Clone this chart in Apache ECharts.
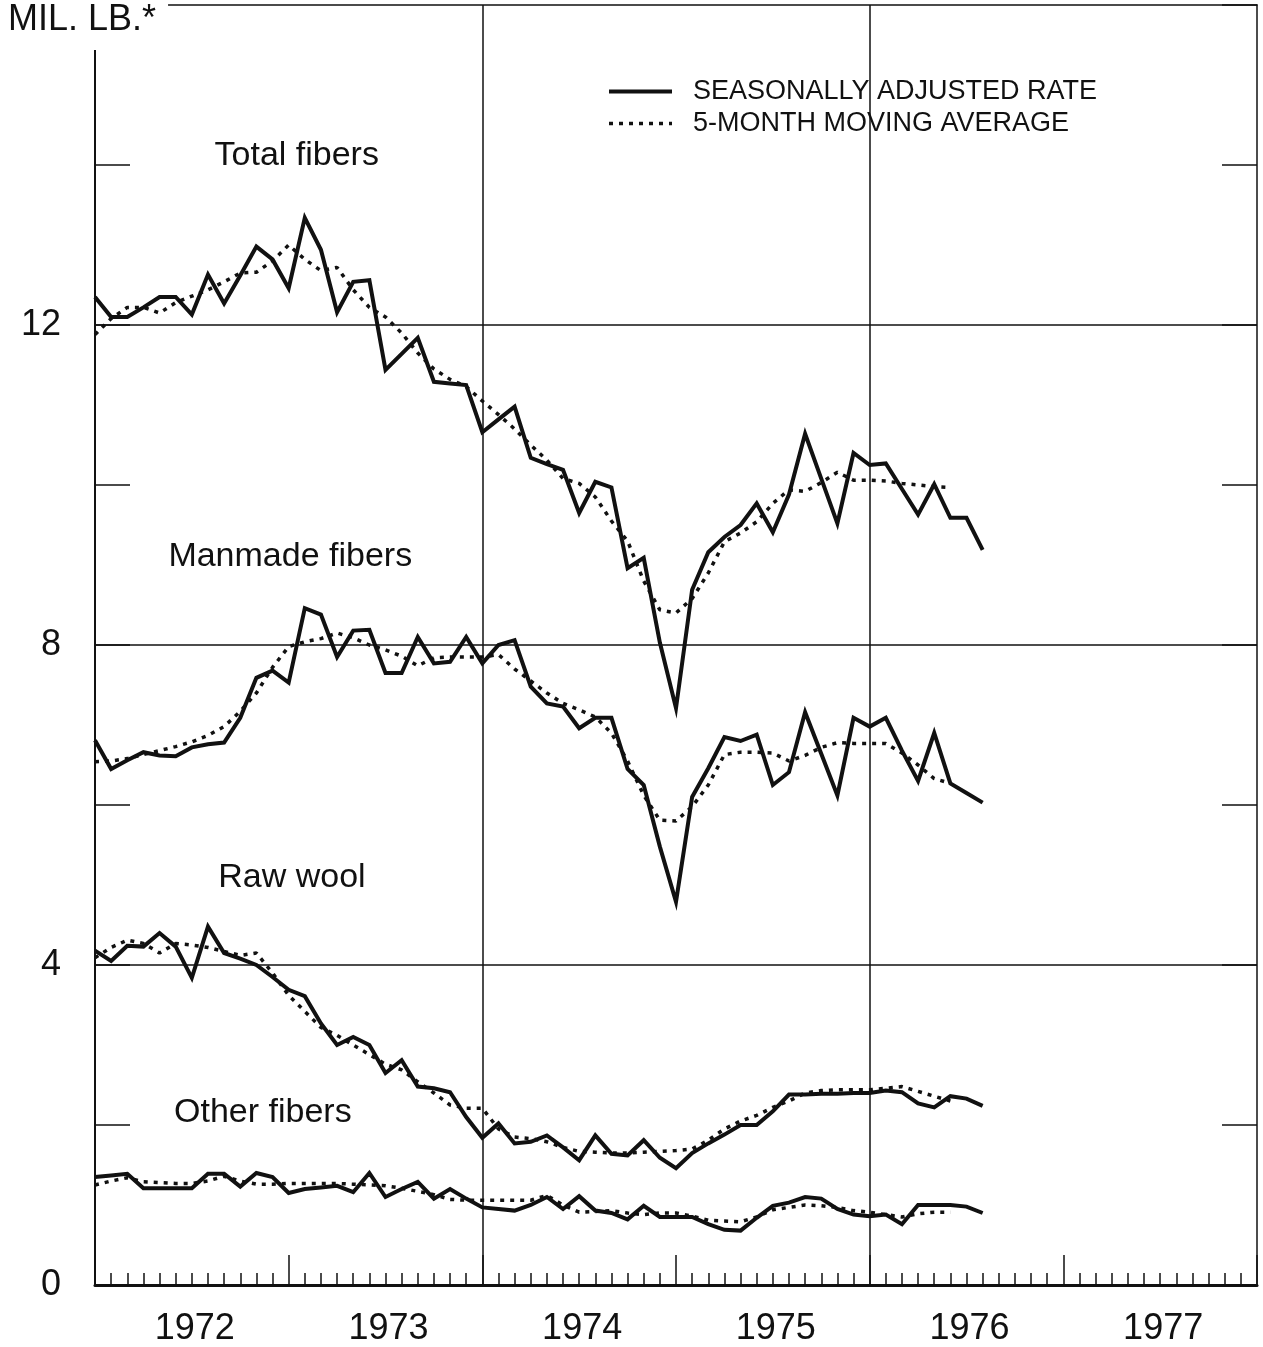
<!DOCTYPE html>
<html>
<head>
<meta charset="utf-8">
<script src="https://cdn.jsdelivr.net/npm/echarts@6/dist/echarts.min.js"></script>
<style>
html, body { margin: 0; padding: 0; background: #fff; }
#chart { width: 1263px; height: 1347px; }
</style>
</head>
<body>
<div id="chart"></div>
<script>
// months counted from Jan 1972 (index 0)
var years = ['1972', '1973', '1974', '1975', '1976', '1977'];

// total fibers
var totalRate = [12.35, 12.1, 12.1, 12.22, 12.35, 12.35, 12.13, 12.63, 12.27, 12.62,
  12.98, 12.82, 12.46, 13.34, 12.94, 12.16, 12.54, 12.56, 11.44, 11.64,
  11.84, 11.29, 11.27, 11.25, 10.66, 10.82, 10.98, 10.34, 10.26, 10.19,
  9.65, 10.04, 9.97, 8.96, 9.09, 8.03, 7.21, 8.69, 9.16, 9.35,
  9.5, 9.77, 9.41, 9.88, 10.64, 10.08, 9.52, 10.4, 10.25, 10.27,
  9.95, 9.63, 10.01, 9.59, 9.59, 9.19];
var totalAvg = [11.88, 12.08, 12.22, 12.22, 12.15, 12.28, 12.36, 12.44, 12.54, 12.65,
  12.66, 12.8, 13.0, 12.82, 12.68, 12.72, 12.44, 12.22, 12.1, 11.9,
  11.65, 11.45, 11.32, 11.23, 11.05, 10.88, 10.7, 10.5, 10.31, 10.08,
  10.02, 9.85, 9.55, 9.3, 8.8, 8.44, 8.4, 8.58, 8.9, 9.29,
  9.4, 9.54, 9.77, 9.94, 9.92, 10.03, 10.16, 10.06, 10.06, 10.05,
  10.02, 10.0, 9.98, 9.97];

// manmade fibers
var manmadeRate = [6.81, 6.45, 6.56, 6.66, 6.62, 6.61, 6.72, 6.76, 6.78, 7.09,
  7.59, 7.68, 7.53, 8.46, 8.38, 7.85, 8.18, 8.19, 7.65, 7.65,
  8.1, 7.77, 7.79, 8.1, 7.77, 8.0, 8.06, 7.48, 7.27, 7.23,
  6.96, 7.09, 7.09, 6.45, 6.25, 5.48, 4.79, 6.1, 6.46, 6.85,
  6.8, 6.88, 6.25, 6.41, 7.16, 6.64, 6.12, 7.09, 6.98, 7.09,
  6.68, 6.3, 6.9, 6.27, 6.15, 6.03];
var manmadeAvg = [6.54, 6.55, 6.58, 6.63, 6.68, 6.73, 6.79, 6.87, 6.98, 7.17,
  7.4, 7.72, 7.98, 8.04, 8.08, 8.15, 8.09, 8.0, 7.94, 7.86,
  7.74, 7.84, 7.85, 7.85, 7.85, 7.88, 7.7, 7.55, 7.4, 7.27,
  7.19, 7.1, 6.9, 6.55, 6.12, 5.81, 5.8, 5.98, 6.25, 6.63,
  6.66, 6.66, 6.65, 6.55, 6.62, 6.72, 6.78, 6.77, 6.77, 6.77,
  6.65, 6.5, 6.33, 6.27];

// raw wool
var woolRate = [4.18, 4.05, 4.24, 4.23, 4.4, 4.23, 3.84, 4.48, 4.15, 4.08,
  4.0, 3.85, 3.69, 3.61, 3.27, 3.0, 3.1, 3.0, 2.65, 2.81,
  2.48, 2.46, 2.41, 2.1, 1.84, 2.02, 1.77, 1.79, 1.87, 1.72,
  1.56, 1.87, 1.64, 1.62, 1.81, 1.59, 1.46, 1.65, 1.77, 1.88,
  2.0, 2.0, 2.17, 2.38, 2.38, 2.39, 2.39, 2.4, 2.4, 2.43,
  2.41, 2.27, 2.22, 2.36, 2.33, 2.24];
var woolAvg = [4.09, 4.22, 4.31, 4.27, 4.15, 4.27, 4.25, 4.22, 4.17, 4.12,
  4.15, 3.9, 3.62, 3.42, 3.22, 3.12, 3.0, 2.88, 2.76, 2.69,
  2.54, 2.4, 2.25, 2.21, 2.21, 1.95, 1.85, 1.83, 1.79, 1.72,
  1.67, 1.66, 1.65, 1.65, 1.66, 1.67, 1.68, 1.7, 1.81, 1.95,
  2.05, 2.12, 2.22, 2.3, 2.4, 2.43, 2.44, 2.44, 2.44, 2.46,
  2.48, 2.42, 2.36, 2.3];

// other fibers
var otherRate = [1.35, 1.37, 1.39, 1.21, 1.21, 1.21, 1.21, 1.39, 1.39, 1.23,
  1.4, 1.35, 1.15, 1.2, 1.22, 1.24, 1.16, 1.4, 1.1, 1.2,
  1.29, 1.08, 1.2, 1.08, 0.97, 0.95, 0.93, 1.0, 1.1, 0.95,
  1.11, 0.93, 0.9, 0.82, 0.99, 0.85, 0.85, 0.85, 0.76, 0.69,
  0.68, 0.84, 0.99, 1.03, 1.1, 1.08, 0.95, 0.88, 0.86, 0.88,
  0.76, 1.0, 1.0, 1.0, 0.98, 0.9];
var otherAvg = [1.25, 1.3, 1.34, 1.29, 1.28, 1.27, 1.27, 1.3, 1.36, 1.3,
  1.26, 1.26, 1.27, 1.27, 1.27, 1.27, 1.26, 1.25, 1.24, 1.21,
  1.17, 1.13, 1.07, 1.06, 1.06, 1.06, 1.06, 1.06, 1.12, 1.0,
  0.91, 0.92, 0.93, 0.9, 0.88, 0.9, 0.9, 0.86, 0.81, 0.8,
  0.79, 0.85, 0.94, 0.97, 1.0, 0.99, 0.97, 0.93, 0.91, 0.88,
  0.85, 0.89, 0.91, 0.91];

var RATE = 'SEASONALLY ADJUSTED RATE';
var AVG = '5-MONTH MOVING AVERAGE';
var FONT = '"Liberation Sans", Arial, Helvetica, sans-serif';
var INK = '#111';

function pairs(arr) {
  return arr.map(function (v, i) { return [i, v]; });
}

function rateSeries(arr, label, at) {
  var s = {
    name: RATE,
    type: 'line',
    data: pairs(arr),
    symbol: 'none',
    lineStyle: { color: INK, width: 4, join: 'miter' },
    itemStyle: { color: INK },
    z: 3
  };
  if (label) {
    s.markPoint = {
      symbol: 'rect',
      symbolSize: 1,
      silent: true,
      itemStyle: { color: 'transparent' },
      label: { show: true, position: 'inside', color: INK, fontSize: 34, fontFamily: FONT, formatter: label },
      data: [{ coord: at }]
    };
  }
  return s;
}

function avgSeries(arr) {
  return {
    name: AVG,
    type: 'line',
    data: pairs(arr),
    symbol: 'none',
    lineStyle: { color: INK, width: 3.5, type: [4, 6] },
    itemStyle: { color: INK },
    z: 2
  };
}

var chart = echarts.init(document.getElementById('chart'));

var option = {
  backgroundColor: '#fff',
  animation: false,
  textStyle: { fontFamily: FONT, color: INK },
  title: {
    text: 'MIL. LB.*',
    left: 0,
    top: 0,
    padding: [2, 12, 12, 8],
    backgroundColor: '#fff',
    textStyle: { fontSize: 36, fontWeight: 'normal', color: INK, fontFamily: FONT },
    z: 10
  },
  legend: {
    data: [
      { name: RATE, lineStyle: { width: 4, type: 'solid' } },
      { name: AVG, lineStyle: { width: 3.5, type: [4, 6] } }
    ],
    orient: 'vertical',
    left: 607,
    top: 78,
    padding: 0,
    itemWidth: 63,
    itemHeight: 14,
    itemGap: 5,
    selectedMode: false,
    itemStyle: { opacity: 0 },
    textStyle: { fontSize: 27, color: INK, fontFamily: FONT, padding: [0, 0, 0, 16] }
  },
  grid: { left: 95, right: 6, top: 5, bottom: 62, containLabel: false },
  xAxis: [{
    type: 'value',
    min: 0,
    max: 72,
    interval: 12,
    position: 'bottom',
    axisLine: { show: true, onZero: false, lineStyle: { color: INK, width: 3 } },
    axisTick: { show: true, inside: true, length: 30, lineStyle: { color: INK, width: 1.5 } },
    minorTick: { show: true, splitNumber: 12, length: 12, lineStyle: { color: INK, width: 1.5 } },
    axisLabel: { show: false },
    splitLine: { show: false }
  }, {
    type: 'value',
    min: 0,
    max: 72,
    position: 'top',
    axisLine: { show: true, onZero: false, lineStyle: { color: INK, width: 1.5 } },
    axisTick: { show: false },
    axisLabel: { show: false },
    splitLine: { show: false }
  }, {
    type: 'category',
    data: years,
    position: 'bottom',
    boundaryGap: true,
    axisLine: { show: false },
    axisTick: { show: false },
    axisLabel: { show: true, margin: 26, fontSize: 36, color: INK, fontFamily: FONT, padding: [0, 0, 0, 6] },
    splitLine: { show: false }
  }],
  yAxis: [{
    type: 'value',
    min: 0,
    max: 16,
    interval: 2,
    position: 'left',
    axisLine: { show: true, onZero: false, lineStyle: { color: INK, width: 2 } },
    axisTick: { show: true, inside: true, length: 35, lineStyle: { color: INK, width: 1.5 } },
    axisLabel: {
      margin: 34,
      fontSize: 36,
      color: INK,
      fontFamily: FONT,
      formatter: function (v) { return v % 4 === 0 && v < 16 ? String(v) : ''; }
    },
    splitLine: { show: false }
  }, {
    type: 'value',
    min: 0,
    max: 16,
    interval: 2,
    position: 'right',
    axisLine: { show: true, onZero: false, lineStyle: { color: INK, width: 1.5 } },
    axisTick: { show: true, inside: true, length: 35, lineStyle: { color: INK, width: 1.5 } },
    axisLabel: { show: false },
    splitLine: { show: false }
  }],
  series: [
    Object.assign(rateSeries(totalRate, 'Total fibers', [12.5, 14.12]), {
      markLine: {
        silent: true,
        symbol: 'none',
        label: { show: false },
        lineStyle: { color: INK, width: 1.5, type: 'solid' },
        data: [{ yAxis: 4 }, { yAxis: 8 }, { yAxis: 12 }, { xAxis: 24 }, { xAxis: 48 }]
      }
    }),
    avgSeries(totalAvg),
    rateSeries(manmadeRate, 'Manmade fibers', [12.1, 9.11]),
    avgSeries(manmadeAvg),
    rateSeries(woolRate, 'Raw wool', [12.2, 5.09]),
    avgSeries(woolAvg),
    rateSeries(otherRate, 'Other fibers', [10.4, 2.15]),
    avgSeries(otherAvg)
  ]
};

chart.setOption(option);
</script>
</body>
</html>
